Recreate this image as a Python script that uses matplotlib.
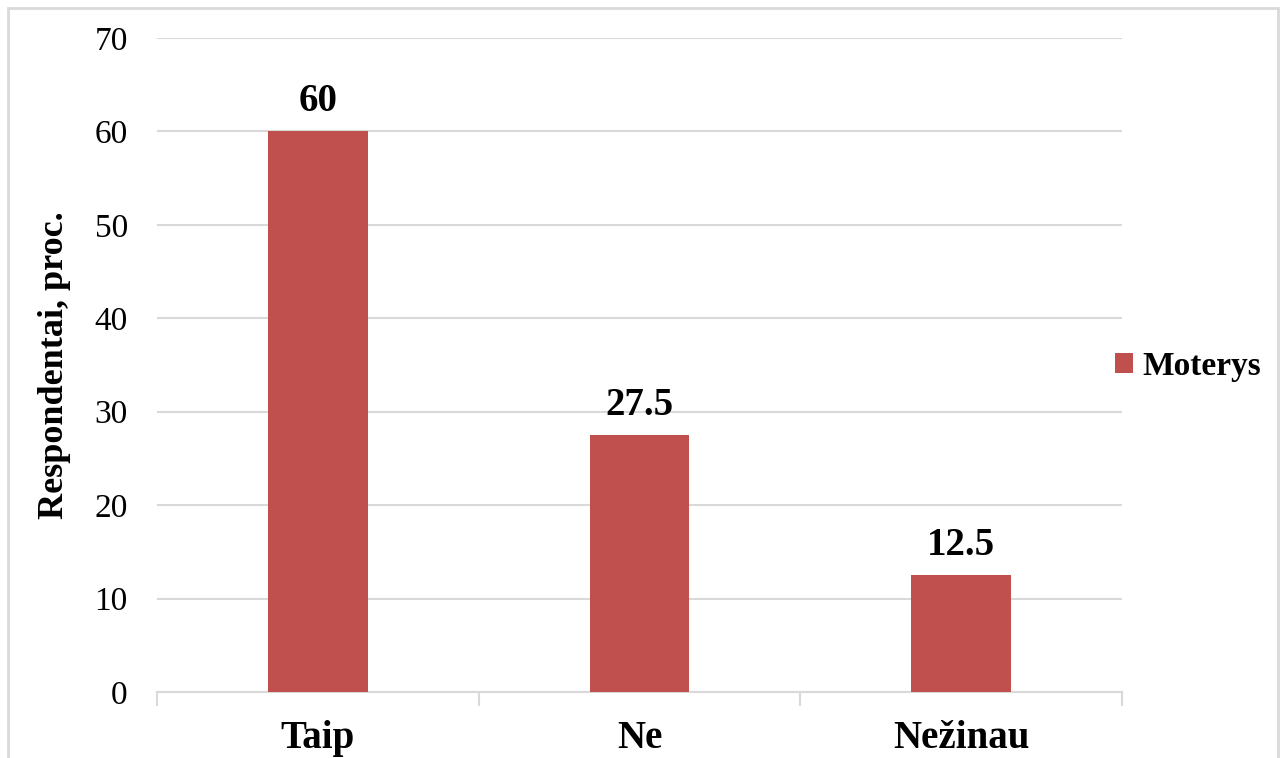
import matplotlib.pyplot as plt
from matplotlib.patches import Rectangle
import numpy as np

categories = ["Taip", "Ne", "Nežinau"]
values = [60, 27.5, 12.5]
series_name = "Moterys"

bar_color = "#C0504D"
grid_color = "#D9D9D9"

plt.rcParams['font.family'] = ['Liberation Serif', 'DejaVu Serif']

fig = plt.figure(figsize=(12.83, 7.58), dpi=100)
ax = fig.add_axes([0.1224, 0.0871, 0.752, 0.8628])

x = np.arange(len(categories))
bars = ax.bar(x, values, width=0.31, color=bar_color, label=series_name, zorder=3)

for b, v in zip(bars, values):
    ax.text(b.get_x() + b.get_width() / 2, v + 1.2, f"{v:g}", ha="center", va="bottom",
            fontsize=28, fontweight="bold")

ax.set_xlim(-0.5, len(categories) - 0.5)
ax.set_ylim(0, 70)
ax.set_yticks(range(0, 71, 10))
ax.tick_params(axis="y", length=0, labelsize=24, pad=21)
ax.grid(axis="y", color=grid_color, linewidth=1.5, zorder=0)

# category labels between boundary ticks, like an Excel category axis
ax.set_xticks(x)
ax.set_xticklabels(categories, fontsize=28, fontweight="bold")
ax.tick_params(axis="x", length=0, pad=20)
ax.set_xticks(np.arange(-0.5, len(categories), 1), minor=True)
ax.tick_params(axis="x", which="minor", length=10, width=1.5, color=grid_color)

for s in ["top", "right", "left"]:
    ax.spines[s].set_visible(False)
ax.spines["bottom"].set_color(grid_color)
ax.spines["bottom"].set_linewidth(1.5)

ax.set_ylabel("Respondentai, proc.", fontsize=26, fontweight="bold", labelpad=17)

leg = fig.legend(handles=[bars], labels=[series_name], loc="center left",
                 bbox_to_anchor=(1115 / 1283, 0.517), frameon=False,
                 borderpad=0, borderaxespad=0,
                 prop={"size": 24, "weight": "bold"},
                 handlelength=0.55, handleheight=0.55, handletextpad=0.27)

# outer chart border
fig.patches.append(Rectangle((8 / 1283, -0.05), 1270 / 1283, 1.05 - 8 / 758,
                             transform=fig.transFigure, fill=False,
                             edgecolor=grid_color, linewidth=2))

fig.savefig("out.png", dpi=100)
